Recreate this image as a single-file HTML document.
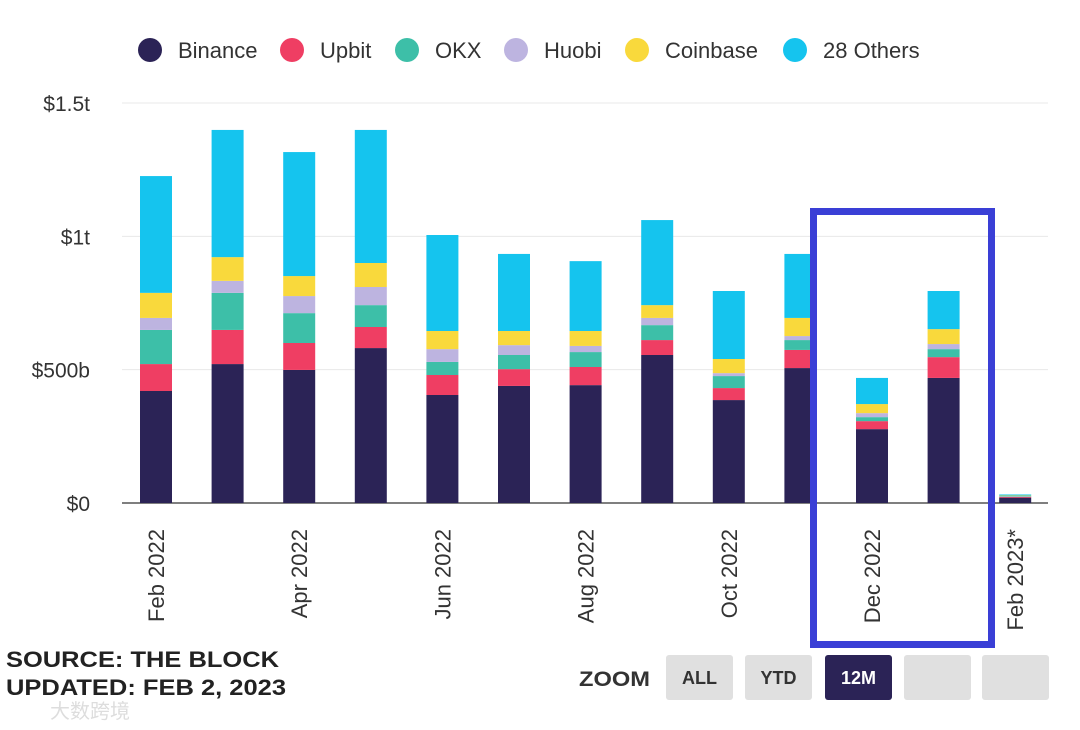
<!DOCTYPE html>
<html><head><meta charset="utf-8"><style>
body{margin:0;background:#fff;width:1080px;height:730px;overflow:hidden;font-family:"Liberation Sans","Noto Sans CJK SC",sans-serif}
svg{position:absolute;left:0;top:0}
</style></head><body>
<svg id="chart" width="1080" height="730"></svg>
<script>
const categories=["Feb 2022","Mar 2022","Apr 2022","May 2022","Jun 2022","Jul 2022","Aug 2022","Sep 2022","Oct 2022","Nov 2022","Dec 2022","Jan 2023","Feb 2023*"];
const binance=[420,521,499,581,405,439,442,555,386,506,277,469,20];
const upbit=[101,128,101,79,75,63,68,56,45,68,30,78,3];
const okx=[128,139,112,82,49,53,56,56,45,37,15,30,2];
const huobi=[45,45,64,68,48,37,23,27,11,15,15,19,1];
const coinbase=[94,89,75,90,68,53,56,48,53,68,34,56,2];
const others=[438,477,465,499,360,289,262,319,255,240,98,143,4];
const tickValues=[0,500,1000,1500];
const tickLabels=["$0","$500b","$1t","$1.5t"];
const seriesNames=["Binance","Upbit","OKX","Huobi","Coinbase","28 Others"];
const colors=["#2b2356","#ef3e63","#3dbfa8","#bdb4e0","#f9d93c","#15c4ee"];
const series=[binance,upbit,okx,huobi,coinbase,others];
const NS="http://www.w3.org/2000/svg";
const svg=document.getElementById('chart');
function el(t,a,p){const e=document.createElementNS(NS,t);for(const k in a)e.setAttribute(k,a[k]);(p||svg).appendChild(e);return e;}
const y0=503,pxPer=(503-103)/1500;
const yScale=v=>y0-v*pxPer;
const xScale=i=>156+i*71.6;
const bw=32;
tickValues.forEach((v,i)=>{
  const l=el('line',{x1:122,x2:1048,y1:yScale(v),y2:yScale(v),stroke:i==0?'#555':'#e8e8e8','stroke-width':i==0?1.5:1});
  
  const t=el('text',{x:90,y:yScale(v)+8,'text-anchor':'end','font-size':21,fill:'#333'});
  t.textContent=tickLabels[i];
  
});
categories.forEach((c,i)=>{
  let acc=0;
  series.forEach((s,k)=>{
    const r=el('rect',{x:xScale(i)-bw/2,y:yScale(acc+s[i]),width:bw,height:s[i]*pxPer,fill:colors[k]});
    
    
    acc+=s[i];
  });
  if(i%2==0){
    const t=el('text',{x:0,y:0,'text-anchor':'end','font-size':22,fill:'#333',transform:`translate(${xScale(i)+8},529) rotate(-90)`});
    t.textContent=c;
    
  }
});
const lx=[150,292,407,516,637,795];
seriesNames.forEach((n,k)=>{
  const c=el('circle',{cx:lx[k],cy:50,r:12,fill:colors[k]});
  
  const t=el('text',{x:lx[k]+28,y:58,'font-size':22,fill:'#333'});
  t.textContent=n;
  
});
const hb=el('rect',{x:813.5,y:211.5,width:178,height:433,fill:'none',stroke:'#3a3fd6','stroke-width':7});

const s1=el('text',{x:6,y:667,'font-size':22,'font-weight':'bold',fill:'#222',textLength:273,lengthAdjust:'spacingAndGlyphs'});s1.textContent="SOURCE: THE BLOCK";

const s2=el('text',{x:6,y:695,'font-size':22,'font-weight':'bold',fill:'#222',textLength:280,lengthAdjust:'spacingAndGlyphs'});s2.textContent="UPDATED: FEB 2, 2023";

const z=el('text',{x:579,y:686,'font-size':21,'font-weight':'bold',fill:'#333',textLength:71,lengthAdjust:'spacingAndGlyphs'});z.textContent="ZOOM";

const btns=[["ALL",666],["YTD",745],["12M",825],["",904],["",982]];
btns.forEach((b,i)=>{
  const r=el('rect',{x:b[1],y:655,width:67,height:45,rx:3,fill:i==2?'#2b2356':'#e0e0e0'});
  
  if(b[0]){const t=el('text',{x:b[1]+33.5,y:684,'text-anchor':'middle','font-size':18,'font-weight':'bold',fill:i==2?'#fff':'#333'});t.textContent=b[0];
  }
});
const w=el('text',{x:50,y:718,'font-size':20,fill:'#ddd'});w.textContent="大数跨境";

</script>
</body></html>
